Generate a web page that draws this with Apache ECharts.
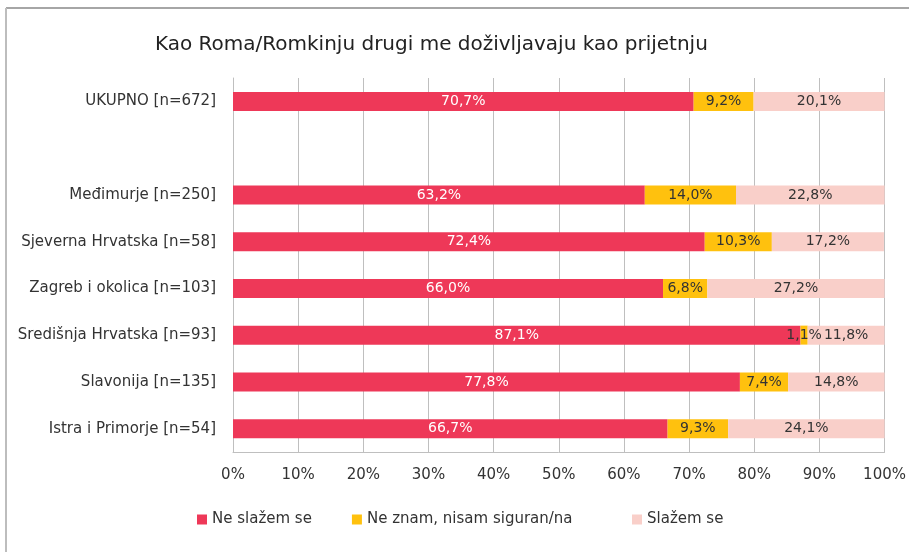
<!DOCTYPE html>
<html><head><meta charset="utf-8">
<script src="https://cdn.jsdelivr.net/npm/echarts@6/dist/echarts.min.js"></script>
<style>html,body{margin:0;padding:0;background:#fff}#c{width:909px;height:552px}</style>
</head><body><div id="c"></div>
<script>
const categories = ['UKUPNO [n=672]', '', 'Međimurje [n=250]', 'Sjeverna Hrvatska [n=58]', 'Zagreb i okolica [n=103]', 'Središnja Hrvatska [n=93]', 'Slavonija [n=135]', 'Istra i Primorje [n=54]'];
const seriesNames = ['Ne slažem se', 'Ne znam, nisam siguran/na', 'Slažem se'];
const neSlazem = [70.7, null, 63.2, 72.4, 66.0, 87.1, 77.8, 66.7];
const neZnam = [9.2, null, 14.0, 10.3, 6.8, 1.1, 7.4, 9.3];
const slazem = [20.1, null, 22.8, 17.2, 27.2, 11.8, 14.8, 24.1];
const xTicks = [0, 10, 20, 30, 40, 50, 60, 70, 80, 90, 100];

const colors = ['#EE3858', '#FFC10E', '#F9CFC9'];
const labelColors = ['#ffffff', '#333333', '#333333'];
const font = 'DejaVu Sans';
const values = [neSlazem, neZnam, slazem];

const legendBase = {
  top: 507, itemWidth: 10, itemHeight: 10, itemGap: 40, icon: 'rect',
  textStyle: {fontFamily: font, fontSize: 15, color: '#333'}
};

const chart = echarts.init(document.getElementById('c'), null, {renderer: 'canvas'});
chart.setOption({
  animation: false,
  textStyle: {fontFamily: font},
  title: {
    text: 'Kao Roma/Romkinju drugi me doživljavaju kao prijetnju',
    left: 150, top: 30,
    textStyle: {fontFamily: font, fontSize: 20, fontWeight: 'normal', color: '#222'}
  },
  graphic: [
    {type: 'line', shape: {x1: 6, y1: 8, x2: 909, y2: 8}, style: {stroke: '#a6a6a6', lineWidth: 2}},
    {type: 'line', shape: {x1: 6, y1: 8, x2: 6, y2: 552}, style: {stroke: '#bdbdbd', lineWidth: 2}}
  ],
  legend: [
    Object.assign({}, legendBase, {left: 192, data: seriesNames.slice(0, 2)}),
    Object.assign({}, legendBase, {left: 627, data: seriesNames.slice(2)})
  ],
  grid: {left: 233, right: 23, top: 78, bottom: 100, containLabel: false},
  xAxis: {
    type: 'value', min: 0, max: 100, interval: 10,
    axisLabel: {formatter: v => v + '%', fontFamily: font, fontSize: 15, color: '#333', margin: 16},
    axisLine: {show: true, lineStyle: {color: '#bfbfbf'}},
    axisTick: {show: false},
    splitLine: {show: true, lineStyle: {color: '#bfbfbf', width: 1}}
  },
  yAxis: {
    type: 'category', inverse: true, data: categories,
    axisLabel: {fontFamily: font, fontSize: 15, color: '#333', margin: 17},
    axisLine: {show: true, lineStyle: {color: '#bfbfbf'}},
    axisTick: {show: false}
  },
  series: seriesNames.map((n, i) => ({
    name: n, type: 'bar', stack: 'total', barWidth: 19,
    itemStyle: {color: colors[i]},
    label: {
      show: true, position: 'inside', fontFamily: font, fontSize: 14, color: labelColors[i],
      formatter: p => p.value == null ? '' : p.value.toFixed(1).replace('.', ',') + '%'
    },
    data: values[i]
  }))
});
</script></body></html>
